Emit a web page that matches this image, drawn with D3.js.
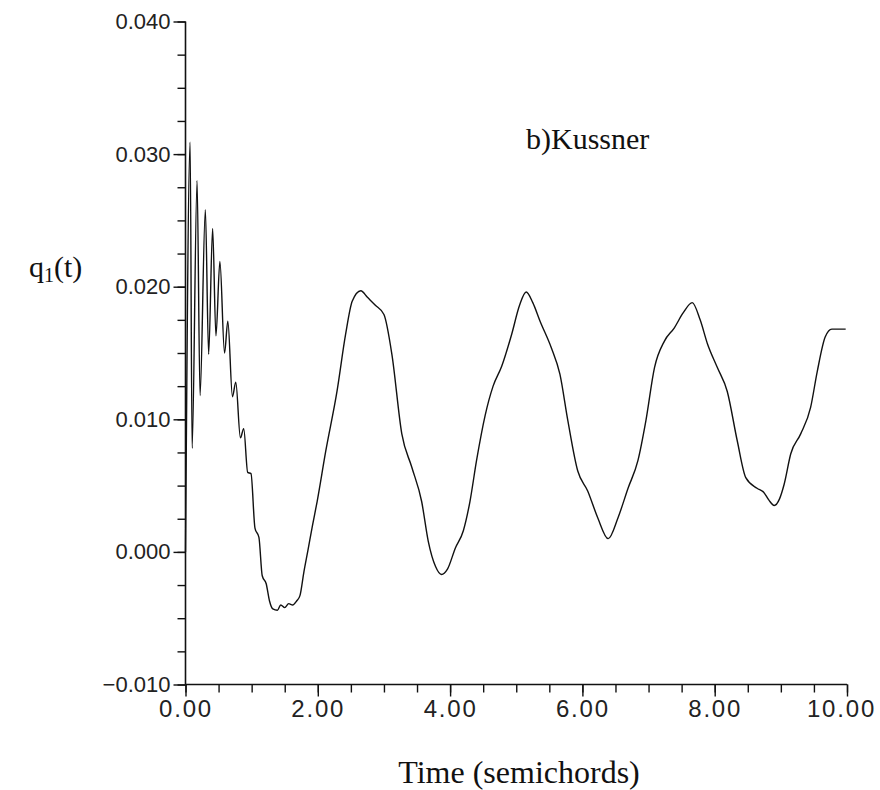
<!DOCTYPE html>
<html>
<head>
<meta charset="utf-8">
<script src="https://cdn.jsdelivr.net/npm/d3@7/dist/d3.min.js"></script>
<style>
  html, body { margin: 0; padding: 0; background: #fff; }
  svg { display: block; }
  .tick text { font-family: "Liberation Sans", Arial, sans-serif; fill: #222; }
</style>
</head>
<body>
<svg id="chart" width="880" height="790"></svg>
<script>
// ---- data ----
const timeValues = [0.00, 0.07, 0.10, 0.175, 0.22, 0.30, 0.35, 0.41, 0.46, 0.52, 0.59, 0.64, 0.71, 0.76, 0.83, 0.88, 0.94, 0.99,
  1.05, 1.11, 1.16, 1.22, 1.27, 1.32, 1.39, 1.44, 1.50, 1.56, 1.62, 1.68, 1.73, 1.79, 1.85, 1.92, 1.99,
  2.12, 2.29, 2.42, 2.52, 2.65, 2.75, 2.87, 3.00, 3.12, 3.27, 3.42, 3.57, 3.67, 3.78, 3.87, 3.96,
  4.08, 4.20, 4.30, 4.40, 4.53, 4.65, 4.78, 4.93, 5.05, 5.15, 5.25, 5.36, 5.53, 5.66, 5.78, 5.93,
  6.08, 6.23, 6.39, 6.54, 6.69, 6.84, 6.96, 7.09, 7.24, 7.39, 7.52, 7.66, 7.78, 7.89, 8.04, 8.19,
  8.34, 8.47, 8.64, 8.74, 8.82, 8.90, 8.98, 9.05, 9.15, 9.30, 9.45, 9.55, 9.67, 9.77, 9.98];
const q1Values = [0.0000, 0.0309, 0.0078, 0.0280, 0.0118, 0.0258, 0.0149, 0.0244, 0.0163, 0.0219, 0.0150, 0.0174, 0.0117, 0.0128, 0.0086, 0.0093, 0.0060, 0.0059,
  0.0018, 0.0011, -0.0018, -0.0024, -0.0037, -0.0043, -0.0044, -0.0040, -0.0042, -0.0039, -0.0040, -0.0037, -0.0033, -0.0015, 0.0001, 0.0020, 0.0038,
  0.0076, 0.0121, 0.0164, 0.0189, 0.0197, 0.0192, 0.0186, 0.0179, 0.0149, 0.0089, 0.0064, 0.0038, 0.0008, -0.0011, -0.0017, -0.0013,
  0.0003, 0.0016, 0.0038, 0.0069, 0.0103, 0.0125, 0.0140, 0.0164, 0.0186, 0.0196, 0.0188, 0.0174, 0.0154, 0.0134, 0.0099, 0.0061,
  0.0046, 0.0026, 0.0010, 0.0026, 0.0048, 0.0069, 0.0099, 0.0139, 0.0159, 0.0169, 0.0180, 0.0188, 0.0175, 0.0157, 0.0139, 0.0121,
  0.0084, 0.0056, 0.0048, 0.0045, 0.0039, 0.0035, 0.0040, 0.0051, 0.0074, 0.0089, 0.0109, 0.0136, 0.0162, 0.0168, 0.0168];
const xMajorTicks = [0, 2, 4, 6, 8, 10];
const xTickLabels = ["0.00", "2.00", "4.00", "6.00", "8.00", "10.00"];
const xMinorTicks = d3.range(0, 10.001, 0.5);
const yMajorTicks = [-0.01, 0.0, 0.01, 0.02, 0.03, 0.04];
const yTickLabels = ["\u22120.010", "0.000", "0.010", "0.020", "0.030", "0.040"];
const yMinorTicks = d3.range(-0.01, 0.04001, 0.0025);
const titleText = "b)Kussner";
const xAxisTitle = "Time (semichords)";

// ---- layout ----
const svg = d3.select("#chart");
const x = d3.scaleLinear().domain([0, 10]).range([185.5, 847]);
const y = d3.scaleLinear().domain([-0.01, 0.04]).range([684.5, 21.5]);

const data = timeValues.map((t, i) => [t, q1Values[i]]);

// minor y ticks
svg.append("g")
  .attr("transform", `translate(${x(0)},0)`)
  .call(d3.axisLeft(y).tickValues(yMinorTicks).tickSize(8).tickFormat(""))
  .call(g => g.select(".domain").remove())
  .call(g => g.selectAll("line").attr("stroke", "#111").attr("stroke-width", 1.4));

// major y ticks
svg.append("g")
  .attr("transform", `translate(${x(0)},0)`)
  .call(d3.axisLeft(y).tickValues(yMajorTicks).tickSize(12).tickPadding(3)
    .tickFormat((d, i) => yTickLabels[i]))
  .call(g => g.select(".domain").attr("stroke", "#111").attr("stroke-width", 1.6).attr("d", `M0,${y(-0.01)}V${y(0.04)}`))
  .call(g => g.selectAll("line").attr("stroke", "#111").attr("stroke-width", 1.4))
  .call(g => g.selectAll("text").attr("font-size", 22));

// minor x ticks
svg.append("g")
  .attr("transform", `translate(0,${y(-0.01)})`)
  .call(d3.axisBottom(x).tickValues(xMinorTicks).tickSize(8).tickFormat(""))
  .call(g => g.select(".domain").remove())
  .call(g => g.selectAll("line").attr("stroke", "#111").attr("stroke-width", 1.4));

// major x ticks
svg.append("g")
  .attr("transform", `translate(0,${y(-0.01)})`)
  .call(d3.axisBottom(x).tickValues(xMajorTicks).tickSize(12).tickPadding(3)
    .tickFormat((d, i) => xTickLabels[i]))
  .call(g => g.select(".domain").attr("stroke", "#111").attr("stroke-width", 1.6).attr("d", `M${x(0)},0H${x(10)}`))
  .call(g => g.selectAll("line").attr("stroke", "#111").attr("stroke-width", 1.4))
  .call(g => g.selectAll("text").attr("font-size", 24).attr("letter-spacing", 1.8)
    .attr("dx", d => d === 10 ? -6 : 0));

// curve
const line = d3.line().x(d => x(d[0])).y(d => y(d[1])).curve(d3.curveMonotoneX);
svg.append("path")
  .datum(data)
  .attr("d", line)
  .attr("fill", "none")
  .attr("stroke", "#111")
  .attr("stroke-width", 1.4)
  .attr("stroke-linejoin", "round");

// texts
svg.append("text")
  .attr("x", 526).attr("y", 149)
  .attr("font-family", "'Liberation Serif', 'Times New Roman', serif")
  .attr("font-size", 30).attr("fill", "#111")
  .text(titleText);

svg.append("text")
  .attr("x", 519).attr("y", 783)
  .attr("text-anchor", "middle")
  .attr("font-family", "'Liberation Serif', 'Times New Roman', serif")
  .attr("font-size", 32).attr("fill", "#111")
  .text(xAxisTitle);

const yl = svg.append("text")
  .attr("x", 29).attr("y", 277)
  .attr("font-family", "'Liberation Serif', 'Times New Roman', serif")
  .attr("font-size", 30).attr("fill", "#111");
yl.append("tspan").text("q");
yl.append("tspan").attr("font-size", 20).attr("dy", 5).text("1");
yl.append("tspan").attr("dy", -5).text("(t)");
</script>
</body>
</html>
